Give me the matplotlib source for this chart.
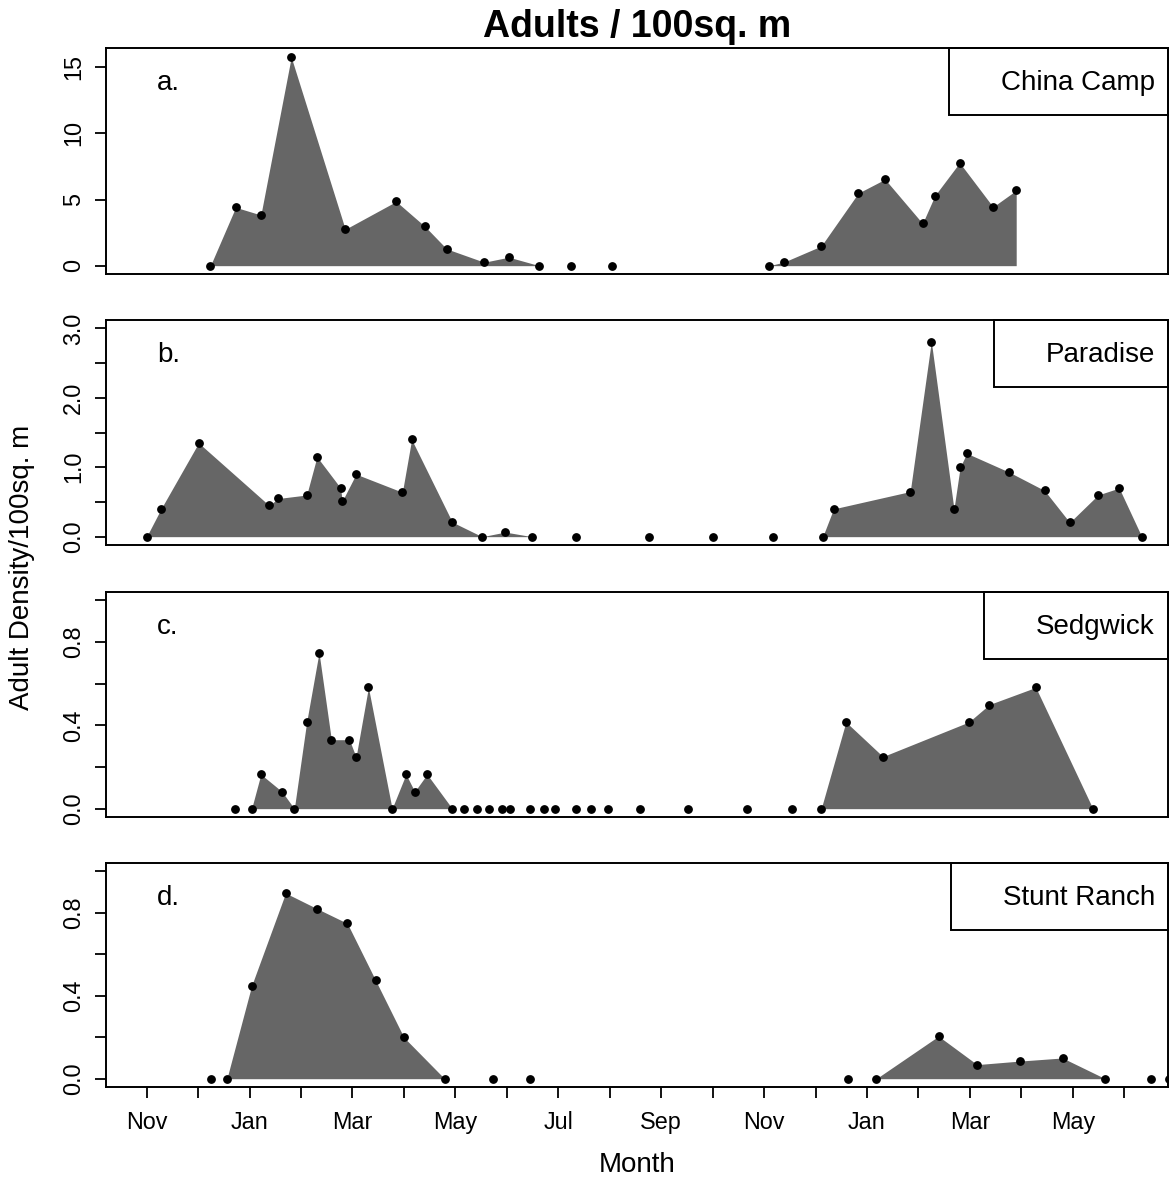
import matplotlib
matplotlib.use("Agg")
import matplotlib.pyplot as plt
import matplotlib.patches as mpatches

plt.rcParams['font.family'] = ['Liberation Sans', 'DejaVu Sans']

# x positions are months counted from 1 Nov of the first season (0 = Nov, 2 = Jan, ...)
month_ticks = list(range(20))
month_labels = ["Nov", "", "Jan", "", "Mar", "", "May", "", "Jul", "", "Sep", "",
                "Nov", "", "Jan", "", "Mar", "", "May", ""]

sites = ["China Camp", "Paradise", "Sedgwick", "Stunt Ranch"]
panel_tags = ["a.", "b.", "c.", "d."]

china_x = [1.24, 1.73, 2.22, 2.81, 3.86, 4.85, 5.41, 5.83, 6.56, 7.04, 7.63, 8.24, 9.04,
           12.10, 12.38, 13.11, 13.83, 14.35, 15.08, 15.32, 15.80, 16.45, 16.90]
china_y = [0, 4.41, 3.83, 15.76, 2.75, 4.85, 2.96, 1.27, 0.26, 0.64, 0, 0, 0,
           0, 0.26, 1.48, 5.48, 6.53, 3.19, 5.30, 7.78, 4.44, 5.69]

paradise_x = [0.00, 0.28, 1.01, 2.38, 2.56, 3.11, 3.31, 3.77, 3.80, 4.07, 4.97, 5.15,
              5.94, 6.52, 6.97, 7.49, 8.35, 9.76, 11.00, 12.18, 13.14, 13.35, 14.84,
              15.25, 15.69, 15.81, 15.94, 16.76, 17.45, 17.94, 18.49, 18.90, 19.34]
paradise_y = [0, 0.40, 1.35, 0.45, 0.55, 0.60, 1.15, 0.70, 0.51, 0.90, 0.64, 1.40,
              0.21, 0, 0.066, 0, 0, 0, 0, 0, 0, 0.40, 0.65,
              2.81, 0.40, 1.00, 1.20, 0.93, 0.665, 0.205, 0.60, 0.70, 0]

sedgwick_x = [1.72, 2.04, 2.22, 2.63, 2.87, 3.11, 3.35, 3.59, 3.94, 4.07, 4.31, 4.77,
              5.04, 5.21, 5.45, 5.94, 6.17, 6.42, 6.66, 6.90, 7.07, 7.46, 7.73, 7.93,
              8.35, 8.63, 8.97, 9.59, 10.53, 11.66, 12.55, 13.11, 13.59, 14.31, 15.98,
              16.38, 17.28, 18.39]
sedgwick_y = [0, 0, 0.165, 0.082, 0, 0.416, 0.749, 0.331, 0.331, 0.248, 0.582, 0,
              0.165, 0.082, 0.165, 0, 0, 0, 0, 0, 0, 0, 0, 0,
              0, 0, 0, 0, 0, 0, 0, 0, 0.416, 0.25, 0.416,
              0.50, 0.582, 0]

stunt_x = [1.25, 1.56, 2.04, 2.70, 3.31, 3.90, 4.45, 5.00, 5.79, 6.73, 7.46,
           13.63, 14.18, 15.39, 16.14, 16.97, 17.80, 18.63, 19.52, 19.86]
stunt_y = [0, 0, 0.448, 0.895, 0.820, 0.749, 0.474, 0.199, 0, 0, 0,
           0, 0, 0.205, 0.068, 0.085, 0.10, 0, 0, 0]

xs = [china_x, paradise_x, sedgwick_x, stunt_x]
ys = [china_y, paradise_y, sedgwick_y, stunt_y]

y_ticks = [[0, 5, 10, 15],
           [0, 0.5, 1.0, 1.5, 2.0, 2.5, 3.0],
           [0, 0.2, 0.4, 0.6, 0.8, 1.0],
           [0, 0.2, 0.4, 0.6, 0.8, 1.0]]
y_ticklabels = [["0", "5", "10", "15"],
                ["0.0", "", "1.0", "", "2.0", "", "3.0"],
                ["0.0", "", "0.4", "", "0.8", ""],
                ["0.0", "", "0.4", "", "0.8", ""]]
y_lims = [(-0.63, 16.45), (-0.12, 3.12), (-0.04, 1.04), (-0.04, 1.04)]

W, H = 1171, 1182
fig = plt.figure(figsize=(W / 100, H / 100), dpi=100)

# panel boxes in pixels: (top, bottom)
boxes = [(48, 274), (320, 545), (592, 817), (863, 1087)]
left_px, right_px = 106, 1168

axes = []
labels = []
for i in range(4):
    top, bot = boxes[i]
    ax = fig.add_axes([left_px / W, 1 - bot / H, (right_px - left_px) / W, (bot - top) / H])
    ax.fill_between(xs[i], ys[i], 0, color="#666666", lw=0)
    ax.plot(xs[i], ys[i], "o", color="black", ms=5.3)
    ax.set_xlim(-0.79, 19.85)
    ax.set_ylim(*y_lims[i])
    ax.set_yticks(y_ticks[i])
    ax.set_yticklabels(y_ticklabels[i], rotation=90, va="center")
    ax.tick_params(axis="y", length=8, width=1.3, labelsize=16.8, pad=7)
    if i < 3:
        ax.set_xticks([])
    else:
        ax.set_xticks(month_ticks)
        ax.set_xticklabels(month_labels)
        ax.tick_params(axis="x", length=8, width=1.3, labelsize=16.8, pad=9)
    for s in ax.spines.values():
        s.set_linewidth(1.4)
    ax.text(0.048, 1 - 35 / (bot - top), panel_tags[i], transform=ax.transAxes,
            ha="left", va="center", fontsize=20)
    t = ax.text(1 - 13 / (right_px - left_px), 1 - 35 / (bot - top), sites[i],
                transform=ax.transAxes, ha="right", va="center", fontsize=20)
    axes.append(ax)
    labels.append(t)

fig.text(637 / W, 1 - 27 / H, "Adults / 100sq. m", ha="center", va="center",
         fontsize=27, fontweight="bold")
fig.text(22 / W, 1 - 567 / H, "Adult Density/100sq. m", ha="center", va="center",
         rotation=90, fontsize=20)
fig.text(637 / W, 1 - 1165 / H, "Month", ha="center", va="center", fontsize=20)

# legend-like boxes in the top right corner
fig.canvas.draw()
for ax, t in zip(axes, labels):
    tb = t.get_window_extent()
    ab = ax.get_window_extent()
    x0 = (tb.x0 - 52 - ab.x0) / ab.width
    h = 67 / ab.height
    ax.add_patch(mpatches.Rectangle((x0, 1 - h), 1 - x0, h, transform=ax.transAxes,
                                    fc="white", ec="black", lw=1.4, clip_on=False, zorder=1))
    t.set_zorder(3)

fig.savefig("out.png", dpi=100)
